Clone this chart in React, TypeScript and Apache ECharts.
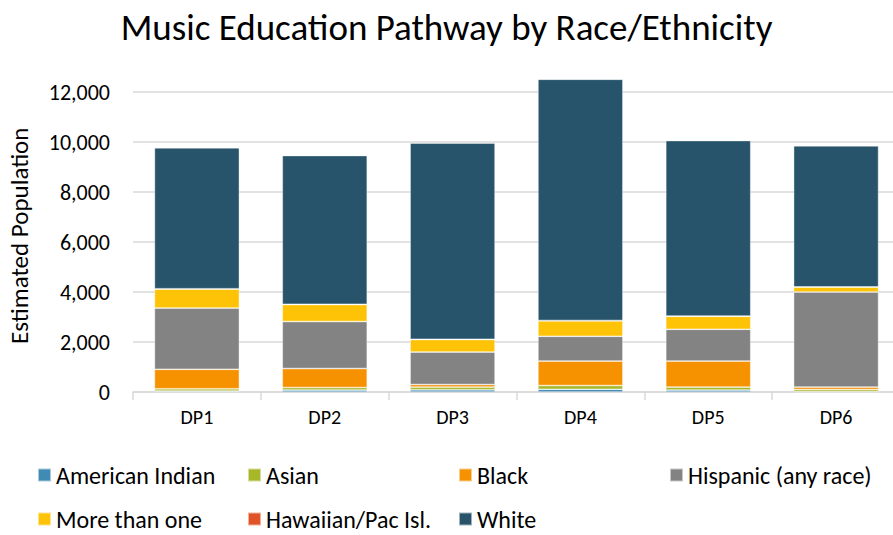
import React, { useEffect, useRef } from "react";
import * as echarts from "echarts";

// Enrollment estimates per pathway stage, split by race/ethnicity
const categories = ["DP1", "DP2", "DP3", "DP4", "DP5", "DP6"];
const americanIndian = [40, 80, 90, 110, 80, 20];
const asian = [90, 100, 110, 150, 120, 80];
const black = [780, 760, 100, 980, 1040, 100];
const hispanic = [2450, 1880, 1300, 990, 1270, 3800];
const moreThanOne = [760, 680, 500, 620, 520, 200];
const hawaiian = [10, 10, 10, 10, 10, 5];
const white = [5640, 5950, 7850, 9650, 7020, 5645];

const seriesDefs = [
  { name: "American Indian", data: americanIndian, color: "#418AB3" },
  { name: "Asian", data: asian, color: "#A6B727" },
  { name: "Black", data: black, color: "#F69200" },
  { name: "Hispanic (any race)", data: hispanic, color: "#838383" },
  { name: "More than one", data: moreThanOne, color: "#FEC306" },
  { name: "Hawaiian/Pac Isl.", data: hawaiian, color: "#DF5327" },
  { name: "White", data: white, color: "#28546B" },
];

// Legend slots laid out in two rows below the plot
const legendSlots = [
  { left: 37, top: 463 },
  { left: 247, top: 463 },
  { left: 458, top: 463 },
  { left: 669, top: 463 },
  { left: 37, top: 507 },
  { left: 247, top: 507 },
  { left: 458, top: 507 },
];

const FONT = "Carlito, Calibri, 'Liberation Sans', sans-serif";

export default function App() {
  const ref = useRef<HTMLDivElement>(null);

  useEffect(() => {
    if (!ref.current) return;
    const chart = echarts.init(ref.current, null, { renderer: "svg" });
    chart.setOption({
      animation: false,
      backgroundColor: "#ffffff",
      title: {
        text: "Music Education Pathway by Race/Ethnicity",
        left: "center",
        top: 4,
        textStyle: { fontFamily: FONT, fontSize: 37, fontWeight: "normal", color: "#000" },
      },
      legend: seriesDefs.map((s, i) => ({
        data: [s.name],
        left: legendSlots[i].left,
        top: legendSlots[i].top,
        itemWidth: 13,
        itemHeight: 13,
        itemGap: 0,
        padding: 0,
        icon: "rect",
        selectedMode: false,
        textStyle: { fontFamily: FONT, fontSize: 24, color: "#000" },
      })),
      // plot area runs slightly past the right edge of the canvas
      grid: {
        left: 133,
        width: 767,
        top: 79.5,
        bottom: 143,
        containLabel: false,
        outerBoundsMode: "none",
      },
      xAxis: {
        type: "category",
        data: categories,
        axisLine: { show: true, lineStyle: { color: "#D9D9D9", width: 1.5 } },
        axisTick: { show: true, length: 8, lineStyle: { color: "#D9D9D9", width: 1.5 } },
        axisLabel: { fontFamily: FONT, fontSize: 20, color: "#000", margin: 15 },
      },
      yAxis: {
        type: "value",
        min: 0,
        max: 12500,
        interval: 2000,
        name: "Estimated Population",
        nameLocation: "middle",
        nameGap: 101,
        nameTextStyle: { fontFamily: FONT, fontSize: 25, color: "#000" },
        axisLine: { show: false },
        axisTick: { show: false },
        axisLabel: {
          fontFamily: FONT,
          fontSize: 22,
          color: "#000",
          margin: 23,
          formatter: (v: number) => (v % 2000 === 0 ? v.toLocaleString("en-US") : ""),
        },
        splitLine: { show: true, showMaxLine: false, lineStyle: { color: "#D9D9D9", width: 1.5 } },
      },
      series: seriesDefs.map((s) => ({
        name: s.name,
        type: "bar",
        stack: "total",
        data: s.data,
        barWidth: 85,
        itemStyle: { color: s.color, borderColor: "rgba(255,255,255,0.55)", borderWidth: 0.75 },
      })),
    });
    return () => chart.dispose();
  }, []);

  return (
    <div
      ref={ref}
      style={{ position: "absolute", left: 0, top: 0, width: 893, height: 535 }}
    />
  );
}
